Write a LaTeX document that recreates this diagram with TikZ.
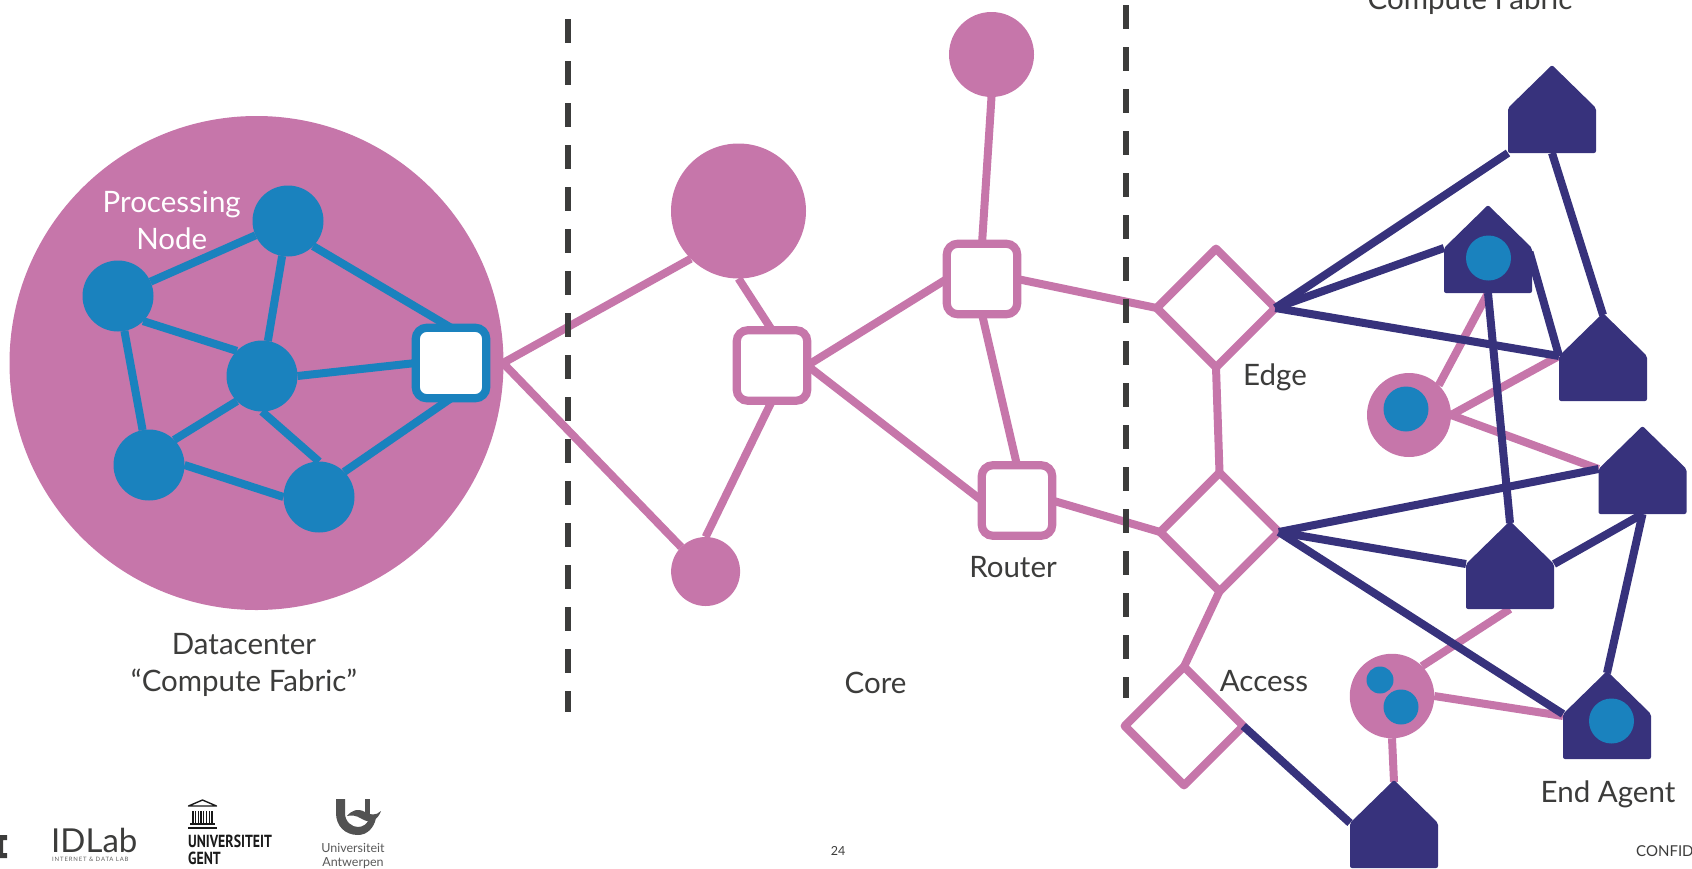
\documentclass[tikz,border=0pt]{standalone}
\usepackage{fontspec}
\setmainfont{Lato}
\newfontfamily\ugfont{PT Sans}
\usetikzlibrary{shapes.geometric,calc}
\definecolor{pinkc}{HTML}{C676AA}
\definecolor{bluec}{HTML}{1A82BE}
\definecolor{darkc}{HTML}{37327C}
\definecolor{textc}{HTML}{3C3C3B}
\pgfdeclarelayer{back}
\pgfdeclarelayer{edges}
\pgfdeclarelayer{top}
\pgfsetlayers{back,edges,main,top}
\tikzset{
  pinkdot/.style={circle,fill=pinkc,inner sep=0pt,outer sep=0pt},
  bluedot/.style={circle,fill=bluec,inner sep=0pt,outer sep=0pt},
  procnode/.style={bluedot,minimum size=71pt},
  routerbox/.style={rectangle,rounded corners=11pt,draw=pinkc,fill=white,line width=8.2pt,minimum size=70.5pt,inner sep=0pt,outer sep=0pt},
  switchbox/.style={diamond,aspect=1,draw=pinkc,fill=white,line width=8.2pt,line join=round,minimum width=118.6pt,minimum height=118.6pt,inner sep=0pt,outer sep=0pt},
  pinkedge/.style={draw=pinkc,line width=8pt},
  blueedge/.style={draw=bluec,line width=8pt},
  darkedge/.style={draw=darkc,line width=8pt},
  divider/.style={draw=textc,line width=6pt,dash pattern=on 24pt off 18pt},
  lab/.style={text=textc,anchor=base,align=center,inner sep=0pt,font=\fontsize{29.5}{36}\selectfont},
  wlab/.style={lab,text=white},
}
\newcommand{\housenode}[3]{%
  \node[inner sep=0pt,outer sep=0pt,minimum width=88pt,minimum height=86pt] (#1) at (#2,#3+43) {};
  \coordinate (#1-l) at (#2-44,#3+41);
  \coordinate (#1-r) at (#2+44,#3+41);
  \coordinate (#1-t) at (#2,#3-2);
  \fill[darkc,rounded corners=2pt] (#1-t) -- (#1-r) -- (#1.south east) -- (#1.south west) -- (#1-l) -- cycle;
}
\begin{document}
\begin{tikzpicture}[x=1pt,y=-1pt]
\useasboundingbox (0,0) rectangle (1692,868);
% datacenter
\begin{pgfonlayer}{back}
\node[pinkdot,minimum size=494pt] (dc) at (256.5,363) {};
\end{pgfonlayer}
\node[procnode] (pa) at (288,221) {};
\node[procnode] (pb) at (118,296) {};
\node[procnode] (pc) at (262,376) {};
\node[procnode] (pd) at (149,465) {};
\node[procnode] (pe) at (319,497) {};
\node[routerbox,draw=bluec] (r1) at (451,363) {};
% core
\node[pinkdot,minimum size=135pt] (cl) at (738.5,211) {};
\node[pinkdot,minimum size=69pt] (cs) at (705.6,571.5) {};
\node[pinkdot,minimum size=85pt] (ct) at (991.5,54.5) {};
\node[routerbox] (r2) at (772,365.5) {};
\node[routerbox] (r3) at (982,279) {};
\node[routerbox] (r4) at (1017,500.5) {};
\coordinate (apex) at (503,363);
% access
\node[switchbox] (d1) at (1216,308) {};
\node[switchbox] (d2) at (1219.5,532) {};
\node[switchbox] (d3) at (1184,726) {};
% end agents
\housenode{h1}{1552}{67}
\housenode{h2}{1488}{207}
\housenode{h3}{1603}{315}
\housenode{h4}{1642.5}{428}
\housenode{h5}{1510}{523}
\housenode{h6}{1607}{673}
\housenode{h7}{1394}{782}
\node[bluedot,minimum size=45pt] (b2) at (1488.5,258) {};
\node[bluedot,minimum size=45pt] (b6) at (1611.5,721) {};
\node[pinkdot,minimum size=84pt] (c1) at (1409,415) {};
\node[bluedot,minimum size=45pt] (b1) at (1406,409) {};
\node[pinkdot,minimum size=84.5pt] (c2) at (1392,696) {};
\node[bluedot,minimum size=27pt] (b3) at (1380,680) {};
\node[bluedot,minimum size=35pt] (b4) at (1401,707) {};
\coordinate (h2out) at ($(h2-r)+(-2.5,4)$);
% edges under nodes
\begin{pgfonlayer}{edges}
\draw[blueedge] (pa) -- (pb);
\draw[blueedge] (pa) -- (pc);
\draw[blueedge] (pa.south east) -- (r1.north);
\draw[blueedge] (pb.south east) -- (pc.north west);
\draw[blueedge] (pb) -- (pd);
\draw[blueedge] (pc.south west) -- (pd.north east);
\draw[blueedge] (pc.south) -- (pe.north);
\draw[blueedge] (pc.east) -- (r1.west);
\draw[blueedge] (pd.east) -- (pe.west);
\draw[blueedge] (pe.north east) -- (r1.south);
\draw[pinkedge] (cl.south west) -- (apex) -- (cs.north west);
\draw[pinkedge] (cl.south) -- (r2.north);
\draw[pinkedge] (cs.north) -- (r2.south);
\draw[pinkedge] (r3.west) -- (r2.east) -- (r4.west);
\draw[pinkedge] (ct.south) -- (r3.north);
\draw[pinkedge] (r3.south) -- (r4.north);
\draw[pinkedge] (r3.east) -- (d1.west);
\draw[pinkedge] (r4.east) -- (d2.west);
\draw[pinkedge] (d1.south) -- (d2.north);
\draw[pinkedge] (d2.south) -- (d3.north);
\draw[pinkedge] (c1.north east) -- (h2.south);
\draw[pinkedge] (c1.east) -- (h3-l);
\draw[pinkedge] (c1.east) -- (h4-l);
\draw[pinkedge] (c2.north east) -- (h5.south);
\draw[pinkedge] (c2.east) -- (h6.west);
\draw[pinkedge] (c2.south) -- (h7.north);
\end{pgfonlayer}
% dark edges and dividers
\begin{pgfonlayer}{top}
\draw[darkedge] (d1.east) -- (h1.south west);
\draw[darkedge] (d1.east) -- (h2-l);
\draw[darkedge] (d1.east) -- (h3-l);
\draw[darkedge] (h1.south) -- (h3.north);
\draw[darkedge] (h2out) -- (h3-l);
\draw[darkedge] (h2.south) -- (h5.north);
\draw[darkedge] (d2.east) -- (h4-l);
\draw[darkedge] (d2.east) -- (h5-l);
\draw[darkedge] (d2.east) -- (h6-l);
\draw[darkedge] (h5-r) -- (h4.south);
\draw[darkedge] (h4.south) -- (h6.north);
\draw[darkedge] (d3.east) -- (h7-l);
\coordinate (v1a) at (568,19); \coordinate (v1b) at (568,712);
\coordinate (v2a) at (1126.4,5); \coordinate (v2b) at (1126.4,698);
\draw[divider] (v1a) -- (v1b);
\draw[divider] (v2a) -- (v2b);
% labels
\node[wlab] (tproc) at (171.7,212) {Processing};
\node[wlab] (tnode) at (171.7,249) {Node};
\node[lab] (tdc) at (244,654) {Datacenter};
\node[lab] (tcf) at (244,691) {“Compute Fabric”};
\node[lab] (tcore) at (875.5,693) {Core};
\node[lab] (trouter) at (1013,577) {Router};
\node[lab] (tedge) at (1275,385) {Edge};
\node[lab] (tacc) at (1264,691) {Access};
\node[lab] (tend) at (1608,802) {End Agent};
\node[lab] (tcomp) at (1470,9) {Compute Fabric};
\node[lab,font=\fontsize{12.5}{14}\selectfont] (tpage) at (838,855) {24};
\node[lab,anchor=base west,font=\fontsize{15}{18}\selectfont] (tconf) at (1636,856) {CONFID};
\end{pgfonlayer}
% footer logos
\fill[textc] (0,835) -- (7,835) -- (7,840) -- (3,840) -- (3,853) -- (7,853) -- (7,858) -- (0,858) -- cycle;
\node[anchor=base west,inner sep=0pt,text=textc,font=\fontsize{33}{36}\selectfont] (idlab) at (51,852) {IDLab};
\node[anchor=base west,inner sep=0pt,text=textc!80,font=\fontsize{6}{7}\selectfont] (idsub) at (52,861.5) {\addfontfeature{LetterSpace=14}INTERNET \& DATA LAB};
% UGent temple
\draw[black!90,line width=1.4pt,line join=round] (188.5,806) -- (202.5,800) -- (216.5,806) -- cycle;
\foreach \cx in {193,195.7,198.4,201.1,203.8,206.5,209.2,211.9}
  \draw[black!90,line width=1.3pt] (\cx,811) -- (\cx,823);
\fill[black!90] (190,823) rectangle (215,824.5);
\fill[black!90] (188,826.5) rectangle (217,828.5);
\node[anchor=base west,inner sep=0pt,text=black!90] (ug1) at (188,847) {\ugfont\bfseries\fontsize{17.5}{18}\selectfont\scalebox{0.79}[1]{UNIVERSITEIT}};
\node[anchor=base west,inner sep=0pt,text=black!90] (ug2) at (188,864) {\ugfont\bfseries\fontsize{17.5}{18}\selectfont\scalebox{0.79}[1]{GENT}};
% UAntwerp
\fill[black!68] (336,799) -- (345,799) -- (345,813) .. controls (345,822) and (352,827) .. (358,827) .. controls (363,827) and (367,824) .. (369,819) -- (376,818) .. controls (374,828) and (367,835) .. (358,835) .. controls (345,835) and (336,826) .. (336,813) -- cycle;
\fill[black!68] (365,799) rectangle (370,814);
\fill[black!68] (347,816) .. controls (352,810) and (358,808) .. (365,812) .. controls (370,815) and (376,816) .. (381,811) .. controls (378,820) and (370,824) .. (362,819) .. controls (356,815) and (351,815) .. (347,816) -- cycle;
\node[lab,text=black!65,font=\fontsize{12.5}{15}\selectfont] (ua1) at (353,852.5) {Universiteit};
\node[lab,text=black!65,font=\fontsize{12.5}{15}\selectfont] (ua2) at (353,866) {Antwerpen};
\end{tikzpicture}
\end{document}
